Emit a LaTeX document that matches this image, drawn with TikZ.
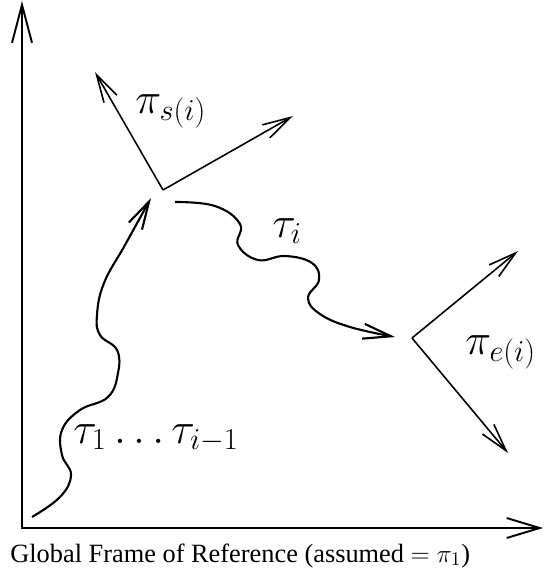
\documentclass[tikz,border=0pt]{standalone}
\usepackage[no-math]{fontspec}
\setmainfont{Liberation Serif}
\usepackage{tikz}
\usetikzlibrary{arrows.meta}
\tikzset{
  axis/.style={draw=black, line width=1.1pt},
  framearrow/.style={draw=black, line width=0.9pt, -{Straight Barb[length=0.56cm, width=0.3cm]}},
  traj/.style={draw=black, line width=1.2pt, -{Straight Barb[length=0.56cm, width=0.3cm]}},
  lbl/.style={inner sep=0pt, anchor=base west, font=\fontsize{23}{27}\selectfont},
  caption/.style={inner sep=0pt, anchor=base west, font=\fontsize{15}{18}\selectfont}
}

\begin{document}
\begin{tikzpicture}[x=0.02cm, y=-0.02cm]
  \useasboundingbox (0,0) rectangle (544,582);

  % global frame
  \coordinate (o) at (22,528);
  \coordinate (ytop) at (22,1);
  \coordinate (xend) at (543,528);
  \draw [axis, {Straight Barb[length=0.76cm, width=0.4cm]}-{Straight Barb[length=0.66cm, width=0.4cm]}] (ytop) -- (o) -- (xend);
  \node [caption] (glob) at (10,562) {Global Frame of Reference (assumed $=\pi_1$)};

  % start frame
  \coordinate (s) at (163,190);
  \coordinate (sx) at (293,116);
  \coordinate (sy) at (95,72);
  \draw [framearrow] (s) -- (sx);
  \draw [framearrow] (s) -- (sy);
  \node [lbl] (ps) at (135,113) {$\pi_{s(i)}$};

  % end frame
  \coordinate (e) at (412,338);
  \coordinate (ex) at (518,251);
  \coordinate (ey) at (508,453);
  \draw [framearrow] (e) -- (ex);
  \draw [framearrow] (e) -- (ey);
  \node [lbl] (pe) at (465,354) {$\pi_{e(i)}$};

  % trajectories
  \draw [traj] plot [smooth, tension=0.7] coordinates {
    (32,517) (60,497) (71,475) (62,455) (62,430) (80,410) (108,397)
    (118,373) (117,350) (100,335) (97,315) (104,283) (125,245) (151,198)};
  \node [lbl] (t1) at (73,443) {$\tau_1\ldots\tau_{i-1}$};

  \draw [traj] plot [smooth, tension=0.7] coordinates {
    (175,202) (215,206) (240,224) (238,245) (258,260) (285,256) (312,263)
    (319,280) (308,298) (320,314) (350,327) (395,337)};
  \node [lbl] (ti) at (272,237) {$\tau_i$};
\end{tikzpicture}
\end{document}
